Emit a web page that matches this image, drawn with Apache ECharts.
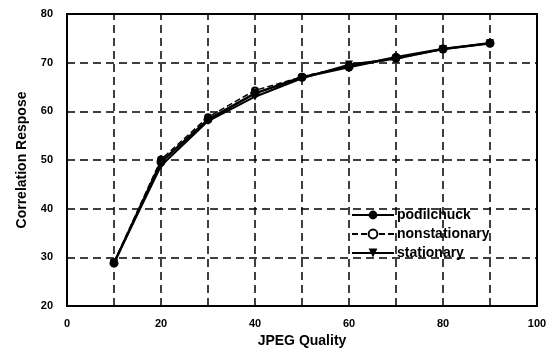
<!DOCTYPE html>
<html><head><meta charset="utf-8">
<script src="https://cdn.jsdelivr.net/npm/echarts@6/dist/echarts.min.js"></script>
<style>html,body{margin:0;padding:0;background:#fff}#c{width:553px;height:353px}</style>
</head><body><div id="c"></div>
<script>
var quality = [10, 20, 30, 40, 50, 60, 70, 80, 90];
var podilchuck = [28.8, 49.6, 58.3, 63.7, 67.0, 69.1, 71.1, 72.8, 74.0];
var nonstationary = [29.0, 50.1, 58.8, 64.3, 67.1, 69.3, 70.8, 72.8, 74.0];
var stationary = [28.9, 48.8, 58.0, 63.0, 66.8, 69.6, 70.8, 72.8, 74.0];
var seriesNames = ['podilchuck', 'nonstationary', 'stationary'];

function pairs(v){ return quality.map(function(q,i){ return [q, v[i]]; }); }
var font = 'Arial, "Liberation Sans", sans-serif';
var chart = echarts.init(document.getElementById('c'));
chart.setOption({
  animation: false,
  backgroundColor: '#fff',
  grid: {left: 67, right: 16, top: 14, bottom: 47, show: true, borderColor: '#000', borderWidth: 2},
  xAxis: {
    type: 'value', min: 0, max: 100, interval: 20,
    name: 'JPEG Quality', nameLocation: 'middle', nameGap: 25,
    nameTextStyle: {fontFamily: font, fontWeight: 'bold', fontSize: 14, color: '#000'},
    axisLine: {lineStyle: {color: '#000', width: 2}},
    axisTick: {show: false},
    axisLabel: {fontFamily: font, fontWeight: 'bold', fontSize: 11, color: '#000', margin: 12},
    splitLine: {show: false}
  },
  yAxis: {
    type: 'value', min: 20, max: 80, interval: 10,
    name: 'Correlation Respose', nameLocation: 'middle', nameGap: 38, nameRotate: 90,
    nameTextStyle: {fontFamily: font, fontWeight: 'bold', fontSize: 14, color: '#000'},
    axisLine: {lineStyle: {color: '#000', width: 2}},
    axisTick: {show: false},
    axisLabel: {fontFamily: font, fontWeight: 'bold', fontSize: 11, color: '#000', margin: 14},
    splitLine: {show: true, lineStyle: {color: '#000', type: [8, 5], width: 1.5}}
  },
  legend: {
    orient: 'vertical', left: 346, top: 203, itemGap: 5, itemWidth: 42, itemHeight: 11,
    textStyle: {fontFamily: font, fontWeight: 'bold', fontSize: 14, color: '#000', padding: [0,0,0,-2]},
    data: seriesNames
  },
  series: [
    {name: 'podilchuck', type: 'line', data: pairs(podilchuck), symbol: 'circle', symbolSize: 9,
     itemStyle: {color: '#000'}, lineStyle: {color: '#000', width: 2.5}, z: 5},
    {name: 'nonstationary', type: 'line', data: pairs(nonstationary), symbol: 'emptyCircle', symbolSize: 6,
     itemStyle: {color: '#000', borderColor: '#000', borderWidth: 1}, lineStyle: {color: '#000', width: 1.5, type: [6, 3]}, z: 4},
    {name: 'stationary', type: 'line', data: pairs(stationary), symbol: 'triangle', symbolRotate: 180, symbolSize: 8,
     itemStyle: {color: '#000'}, lineStyle: {color: '#000', width: 2}, z: 3},
    {type: 'line', data: [], markLine: {silent: true, symbol: 'none', label: {show: false},
      lineStyle: {color: '#000', type: [8, 5], width: 1.5},
      data: [10,20,30,40,50,60,70,80,90].map(function(x){ return {xAxis: x}; })}}
  ]
});
</script></body></html>
